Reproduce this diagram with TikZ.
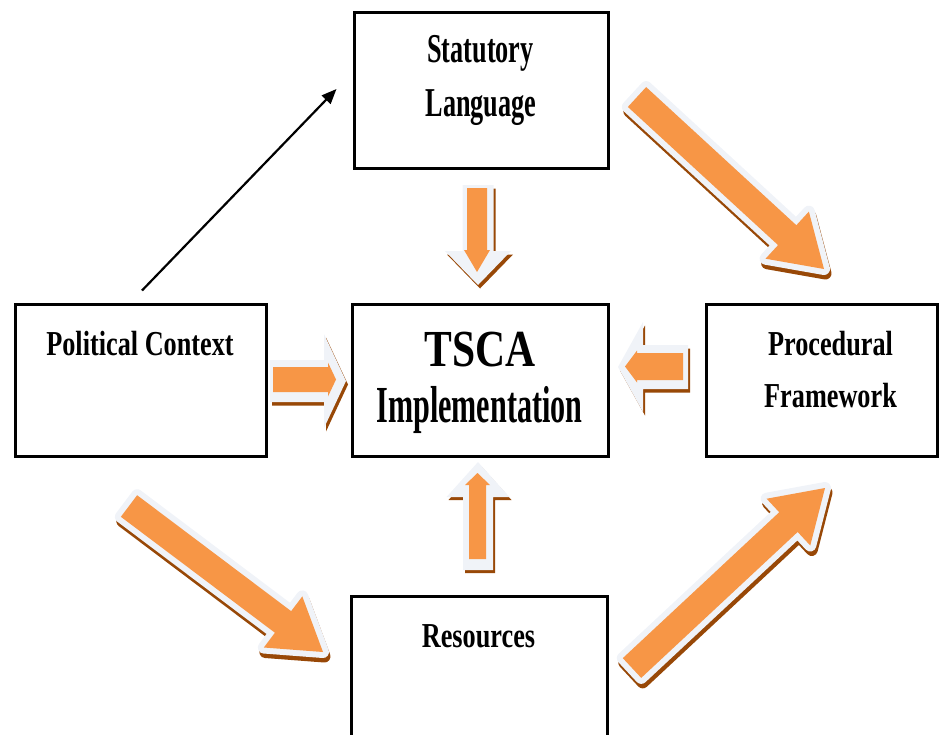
\documentclass[tikz,border=0pt]{standalone}
\usepackage{fontspec}
\setmainfont{Liberation Serif}
\usetikzlibrary{calc,arrows.meta}

\definecolor{arroworange}{RGB}{247,150,70}
\definecolor{arrowshade}{RGB}{152,72,7}
\definecolor{arrowglow}{RGB}{240,243,248}

% block arrow: style, tail, tip, shaft half-width, head half-width, head length (pt)
\newcommand{\blockarrow}[6]{%
  \coordinate (bk-t) at (#2);
  \coordinate (bk-h) at (#3);
  \coordinate (bk-b) at ($(bk-h)!#6pt!(bk-t)$);
  \path[#1] ($(bk-t)!#4pt!90:(bk-h)$) -- ($(bk-b)!#4pt!90:(bk-h)$)
    -- ($(bk-b)!#5pt!90:(bk-h)$) -- (bk-h) -- ($(bk-b)!#5pt!-90:(bk-h)$)
    -- ($(bk-b)!#4pt!-90:(bk-h)$) -- ($(bk-t)!#4pt!-90:(bk-h)$) -- cycle;
}

\tikzset{
  box/.style={draw=black, line width=3pt, inner sep=0pt,
    minimum width=254pt, minimum height=152pt},
  lbl/.style={anchor=base, inner sep=0pt,
    font=\bfseries\fontsize{35}{35}\selectfont},
  biglbl/.style={lbl, font=\bfseries\fontsize{52}{52}\selectfont},
  tallbl/.style={lbl, font=\bfseries\fontsize{41}{41}\selectfont},
  shade/.style={fill=arrowshade},
  glow/.style={fill=arrowglow},
  body/.style={fill=arroworange},
  shadewide/.style={fill=arrowshade, draw=arrowshade, line width=12pt, line join=round},
  glowwide/.style={fill=arrowglow, draw=arrowglow, line width=12pt, line join=round},
}

\begin{document}
\begin{tikzpicture}[x=1pt, y=-1pt]
\useasboundingbox (0,0) rectangle (949,734);
\clip (0,0) rectangle (949,734);

% ---- diagonal block arrows ----
% Statutory Language -> Procedural Framework
\blockarrow{shadewide}{$(637,97)+(1.5,4.5)$}{$(824,269)+(1.5,4.5)$}{13.5}{32}{50}
\blockarrow{glowwide}{637,97}{824,269}{13.5}{32}{50}
\blockarrow{body}{637,97}{824,269}{13.5}{32}{50}
% Political Context -> Resources
\blockarrow{shadewide}{$(129,506)+(1.5,4.5)$}{$(323,652)+(1.5,4.5)$}{13.5}{32}{50}
\blockarrow{glowwide}{129,506}{323,652}{13.5}{32}{50}
\blockarrow{body}{129,506}{323,652}{13.5}{32}{50}
% Resources -> Procedural Framework
\blockarrow{shadewide}{$(632,668)+(1.5,4.5)$}{$(825,488)+(1.5,4.5)$}{13.5}{32}{50}
\blockarrow{glowwide}{632,668}{825,488}{13.5}{32}{50}
\blockarrow{body}{632,668}{825,488}{13.5}{32}{50}

% ---- short block arrows into the centre ----
% from above
\blockarrow{shade}{480,188.5}{480,288.5}{15.5}{33}{34}
\blockarrow{glow}{478,185}{478,285}{15.5}{33}{34}
\blockarrow{body}{477,188}{477,272}{10}{13}{22}
% from below
\blockarrow{shade}{480,573}{480,465}{15}{31.5}{35}
\blockarrow{glow}{478,570}{478,462}{15}{31.5}{35}
\blockarrow{body}{477.5,559}{477.5,473}{8.5}{12.5}{12}
% from the left
\blockarrow{shade}{272,384.5}{348,384.5}{21}{47}{22}
\blockarrow{glow}{270,381}{346,381}{21}{47}{22}
\blockarrow{body}{273,379.5}{336,379.5}{12.5}{17}{8}
% from the right
\blockarrow{shade}{690,370.5}{620,370.5}{22}{45}{25}
\blockarrow{glow}{688,367}{618,367}{22}{45}{25}
\blockarrow{body}{683,366.5}{625,366.5}{13.5}{16}{12}

% ---- boxes ----
\node[box, minimum height=156pt] (sl) at (481,90) {};
\node[box, minimum width=251pt] (pc) at (140.5,380) {};
\node[box, minimum width=256pt] (tsca) at (480,380) {};
\node[box, minimum width=231pt] (pf) at (821.5,380) {};
\node[box, minimum width=256pt] (res) at (479,672) {};

% ---- labels ----
\node[tallbl] (t-sl1) at (480.5,62) {\scalebox{0.64}[1]{Statutory}};
\node[tallbl] (t-sl2) at (481,116) {\scalebox{0.64}[1]{Language}};
\node[lbl] (t-pc) at (140,355) {\scalebox{0.75}[1]{Political Context}};
\node[biglbl] (t-ts1) at (480,366) {\scalebox{0.8}[1]{TSCA}};
\node[biglbl] (t-ts2) at (479.5,422) {\scalebox{0.58}[1]{Implementation}};
\node[lbl] (t-pf1) at (830.5,355) {\scalebox{0.75}[1]{Procedural}};
\node[lbl] (t-pf2) at (830.5,407) {\scalebox{0.75}[1]{Framework}};
\node[lbl] (t-res) at (478.5,647) {\scalebox{0.75}[1]{Resources}};

% ---- thin connector ----
\draw[line width=2.2pt, -{Triangle[length=15pt,width=12pt]}]
  ($(pc.north)+(1.5,-12)$) -- ($(sl.west)+(-16,-1)$);
\end{tikzpicture}
\end{document}
